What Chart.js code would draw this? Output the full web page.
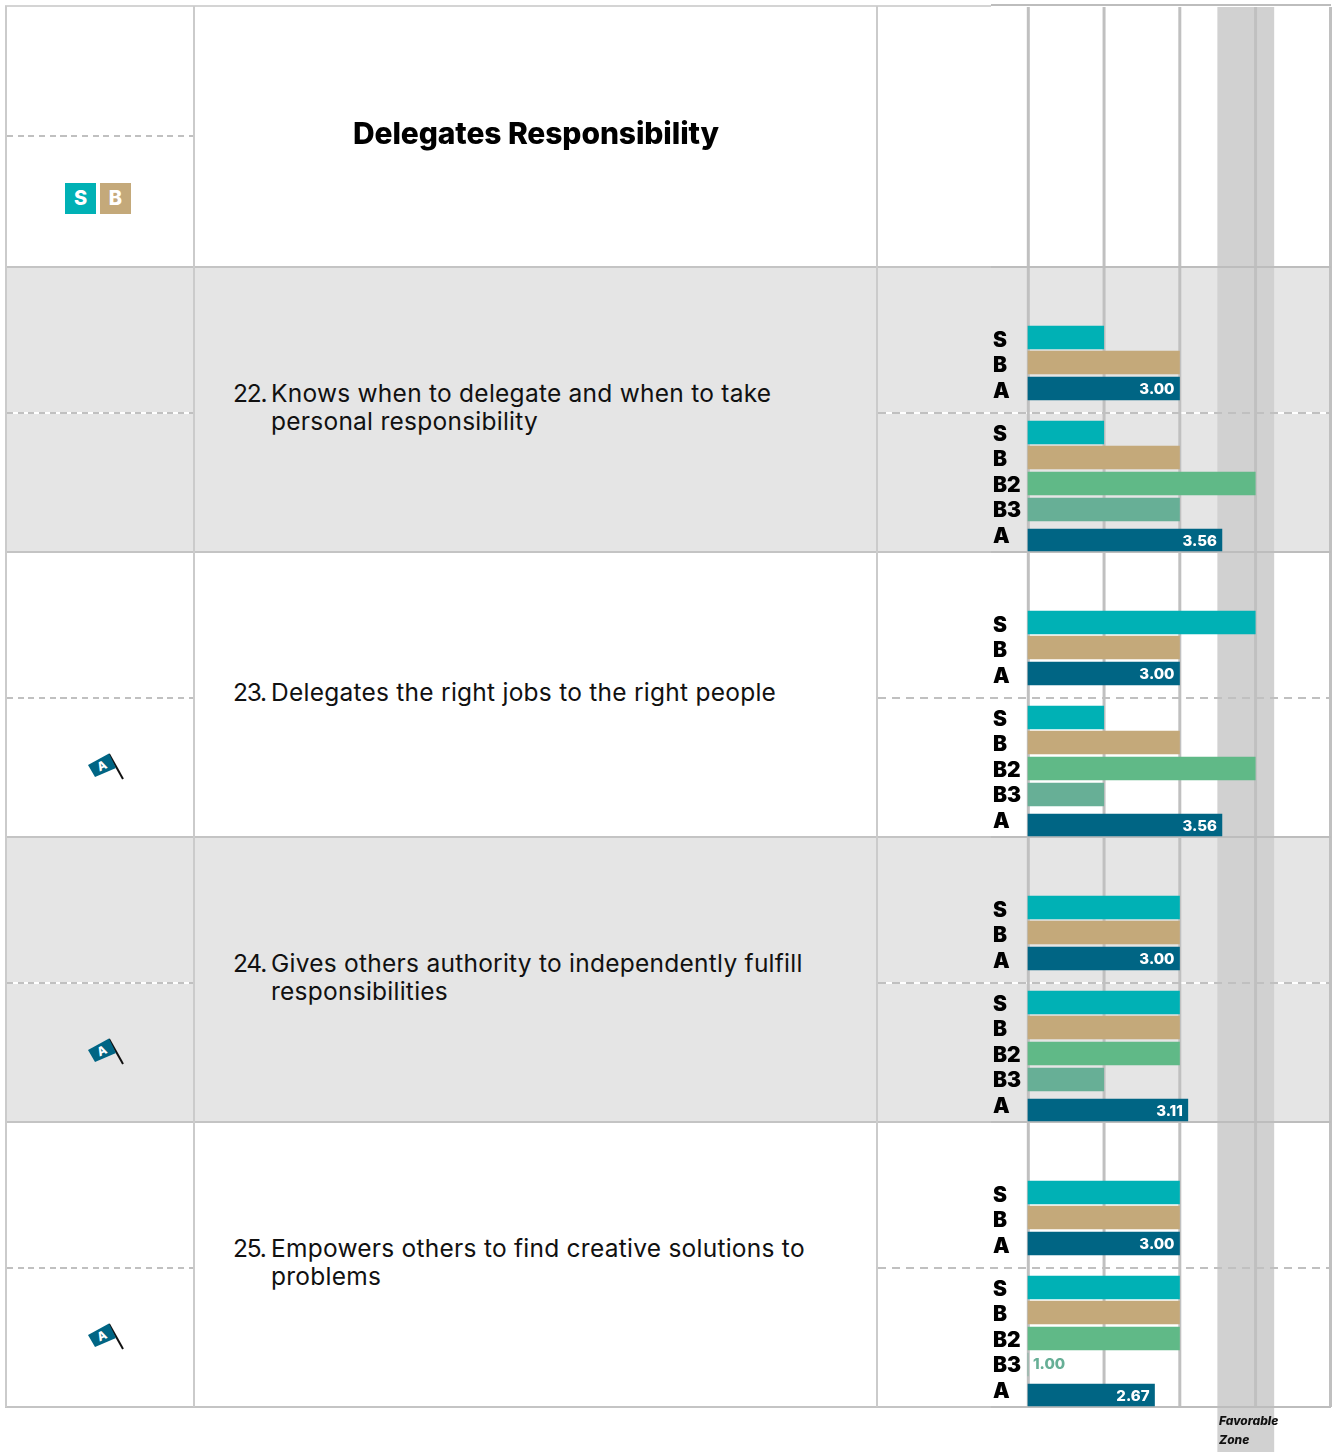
<!DOCTYPE html>
<html><head><meta charset="utf-8">
<script src="https://cdn.jsdelivr.net/npm/chart.js@4"></script>
<style>
html,body{margin:0;padding:0;background:#fff}
#page{position:relative;width:1332px;height:1452px;overflow:hidden;font-family:Inter,sans-serif;color:#111}
#page div,#page canvas,#page svg{position:absolute}
.q{left:271px;width:590px;font-size:24.5px;line-height:28px;letter-spacing:.25px;white-space:nowrap}
.n{left:233px;font-size:24.5px;line-height:28px;letter-spacing:-1.2px}
.t{left:195px;width:682px;text-align:center;font-size:30px;font-weight:800;top:115px;line-height:36px;letter-spacing:-.1px;color:#000}
.sq{width:31px;height:31px;color:#fff;font-weight:800;font-size:20px;line-height:31px;text-align:center;top:183px}
.fz{left:1219px;font-size:12px;font-style:italic;font-weight:800;color:#111;white-space:nowrap}
</style></head><body><div id="page"></div>
<script>
const questions=[
 ["22.","Knows when to delegate and when to take","personal responsibility"],
 ["23.","Delegates the right jobs to the right people"],
 ["24.","Gives others authority to independently fulfill","responsibilities"],
 ["25.","Empowers others to find creative solutions to","problems"]];
const title="Delegates Responsibility";
const upperLabels=["S","B","A"];
const lowerLabels=["S","B","B2","B3","A"];
const upperValues=[[2,3,3.00],[4,3,3.00],[3,3,3.00],[3,3,3.00]];
const lowerValues=[[2,3,4,3,3.56],[2,3,4,2,3.56],[3,3,3,2,3.11],[3,3,3,1,2.67]];
const flagged=[false,true,true,true];
const axisMin=1, axisMax=5;
const zoneFrom=3.5, zoneTo=4.25;
const gridTicks=[1,2,3,4,5];
const zoneLabel=["Favorable","Zone"];

const colors={S:"#00B1B5",B:"#C4A97A",B2:"#60B987",B3:"#67AF96",A:"#006584"};
const page=document.getElementById("page");
function box(l,t,w,h,css){const d=document.createElement("div");d.style.cssText=`left:${l}px;top:${t}px;width:${w}px;height:${h}px;`+(css||"");page.appendChild(d);return d;}
const rowTop=[267,552,837,1122,1407];
const midLines=[135,412,697,982,1267];

// shaded rows
box(6,268,1325,284,"background:#e5e5e5");
box(6,838,1325,284,"background:#e5e5e5");
// white base of the dashed lines (lies beneath the favourable zone)
midLines.forEach((y,i)=>{box(7,y,186,2,"background:#fff");if(i>0)box(878,y,452,2,"background:#fff");});

// background chart: vertical grid + favourable zone, on the same x scale as the bars
const X0=880, X1=1331, AX=1028;
const bg=document.createElement("canvas");
bg.style.cssText=`left:${X0}px;top:0`;
bg.width=X1-X0+1;bg.height=1452;
page.appendChild(bg);
new Chart(bg,{type:"bar",data:{labels:[""],datasets:[{data:[null]}]},
 options:{indexAxis:"y",responsive:false,animation:false,events:[],
  layout:{padding:{left:AX-X0,right:1,top:7,bottom:45}},
  plugins:{legend:{display:false},tooltip:{enabled:false}},
  scales:{x:{type:"linear",min:axisMin,max:axisMax,display:false},y:{display:false}}},
 plugins:[{id:"zone",beforeDraw(c){const g=c.ctx,x=c.scales.x,a=c.chartArea;
   g.save();g.fillStyle="#d1d1d1";
   const z0=x.getPixelForValue(zoneFrom),z1=x.getPixelForValue(zoneTo);
   g.fillRect(z0,a.top,z1-z0,c.height-a.top);
   g.fillStyle="#c0c0c0";
   gridTicks.forEach(t=>{g.fillRect(Math.min(x.getPixelForValue(t)-1.2,c.width-3),a.top,3,a.bottom-a.top);});
   g.restore();}}]});

// table lines
box(5,5,986,2,"background:#d4d4d4");box(991,4,340,2,"background:#bdbdbd");
rowTop.forEach(y=>{box(5,y-1,986,2,"background:#c4c4c4");box(991,y-1,340,2,"background:#bdbdbd");});
[5,193,876].forEach(x=>box(x,6,2,1401,"background:#cbcbcb"));
// grey dashes
midLines.forEach((y,i)=>{
  box(7,y,186,2,"background:repeating-linear-gradient(90deg,#c0c0c0 0 6px,transparent 6px 10.7px)");
  if(i>0) box(878,y,452,2,"background:repeating-linear-gradient(90deg,#c0c0c0 0 8px,transparent 8px 14px)");
});

// text
const tt=document.createElement("div");tt.className="t";tt.textContent=title;page.appendChild(tt);
const qTop=[379,678,949,1234];
questions.forEach((q,i)=>{
  const n=document.createElement("div");n.className="n";n.style.top=qTop[i]+"px";n.textContent=q[0];page.appendChild(n);
  q.slice(1).forEach((s,j)=>{const d=document.createElement("div");d.className="q";d.style.top=(qTop[i]+28*j)+"px";d.textContent=s;page.appendChild(d);});
});
// legend squares
[["S",65,colors.S],["B",100,colors.B]].forEach(([s,l,c])=>{const d=document.createElement("div");d.className="sq";d.style.left=l+"px";d.style.background=c;d.textContent=s;page.appendChild(d);});
// flags
flagged.forEach((f,i)=>{ if(!f) return;
  const s=document.createElementNS("http://www.w3.org/2000/svg","svg");
  s.setAttribute("width","40");s.setAttribute("height","32");
  s.style.left="86px";s.style.top=(rowTop[i]+200)+"px";
  s.innerHTML='<line x1="23" y1="2" x2="37" y2="27" stroke="#111" stroke-width="2"/>'+
   '<polygon points="2,13 23,1.5 30,16 9,25" fill="#006584"/>'+
   '<text x="16" y="18" transform="rotate(-25 16 14)" font-family="Inter" font-weight="800" font-size="12" fill="#fff" text-anchor="middle">A</text>';
  page.appendChild(s);
});
zoneLabel.forEach((s,i)=>{const d=document.createElement("div");d.className="fz";d.style.top=(1413+19*i)+"px";d.textContent=s;page.appendChild(d);});

// bar charts
const valuePlugin={id:"values",afterDatasetsDraw(c){
  const g=c.ctx,ds=c.data.datasets[0],m=c.getDatasetMeta(0),x=c.scales.x;
  c.data.labels.forEach((lb,i)=>{
    const v=ds.data[i],el=m.data[i];
    if(lb==="A"){g.save();g.fillStyle="#fff";g.font="800 15px Inter";g.textAlign="right";g.textBaseline="middle";
      g.fillText(v.toFixed(2),x.getPixelForValue(v)-5,el.y+1);g.restore();}
    else if(v===axisMin){g.save();g.fillStyle=colors[lb];g.font="800 15px Inter";g.textAlign="left";g.textBaseline="middle";
      g.fillText(v.toFixed(2),x.getPixelForValue(axisMin)+5,el.y);g.restore();}
  });
}};
// snap bars to whole pixels; overall "A" bar in the lower block sits slightly apart
function snap(lift,lastShift){return {id:"snap",afterDatasetsUpdate(c){
  const m=c.getDatasetMeta(0);
  m.data.forEach(el=>{el.y=Math.floor(el.y-lift)+.5;});
  if(lastShift){const e=m.data[m.data.length-1];e.y+=lastShift;e.height=22;}
}};}
const LBL=993;
function barChart(labels,values,top,height,lift,lastShift){
  const cv=document.createElement("canvas");
  cv.style.cssText=`left:${LBL}px;top:${top}px`;
  cv.width=X1+1-LBL;cv.height=height;page.appendChild(cv);
  new Chart(cv,{type:"bar",
   data:{labels,datasets:[{data:values,base:axisMin,backgroundColor:labels.map(l=>colors[l]),barThickness:23,borderWidth:0,clip:false}]},
   options:{indexAxis:"y",responsive:false,animation:false,events:[],
    layout:{padding:{left:0,right:1,top:0,bottom:0}},
    plugins:{legend:{display:false},tooltip:{enabled:false}},
    scales:{
     x:{type:"linear",min:axisMin,max:axisMax,display:false},
     y:{type:"category",afterFit(a){a.width=AX-LBL;},
        grid:{display:false},border:{display:false},
        ticks:{color:"#000",font:{family:"Inter",weight:"900",size:21},crossAlign:"far",padding:0,autoSkip:false}}
    }},
   plugins:[snap(lift,lastShift),valuePlugin]});
}
rowTop.slice(0,4).forEach((t,i)=>{
  barChart(upperLabels,upperValues[i],t+48,102,3.05,0);
  barChart(lowerLabels,lowerValues[i],t+142,153,2.0,5.5);
});
</script></body></html>
